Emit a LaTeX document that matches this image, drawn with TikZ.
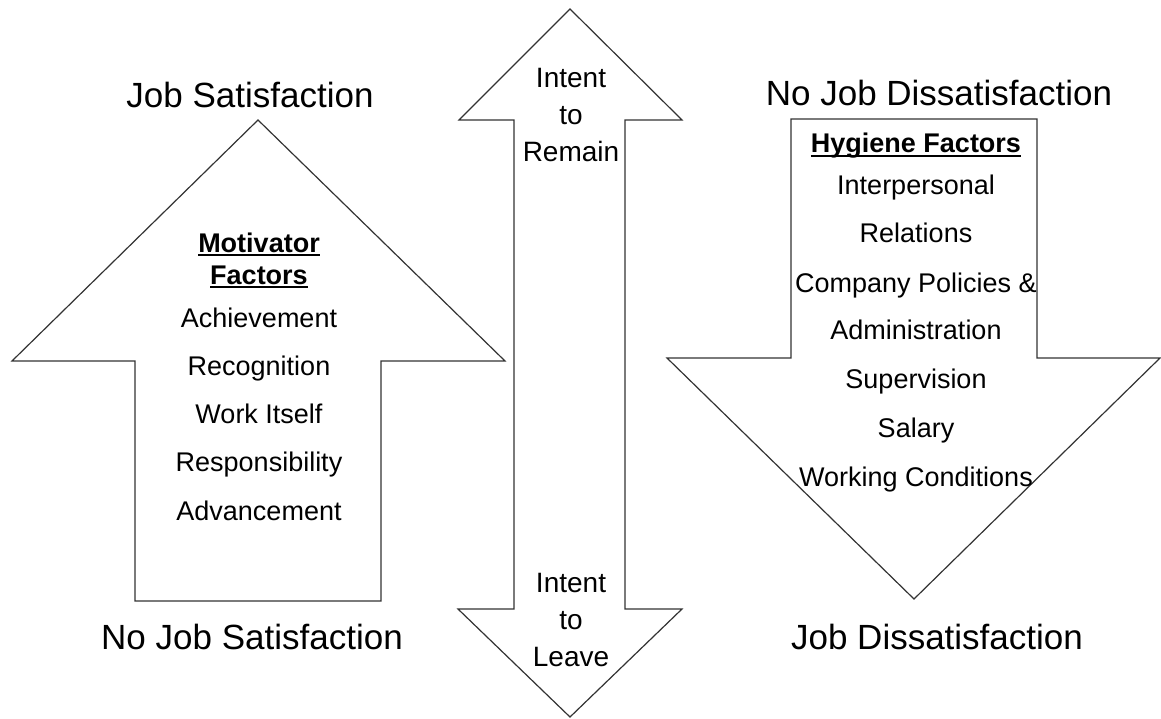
\documentclass[tikz,border=0pt]{standalone}
\usepackage{fontspec}
\setmainfont{Liberation Sans}
% underline drawn at a fixed depth under the text
\newcommand\factorhead[1]{\setbox0\hbox{\bfseries #1}\rlap{\rule[-0.14em]{\wd0}{0.075em}}\box0}
\begin{document}
\begin{tikzpicture}[x=1pt,y=-1pt,
  arrowshape/.style={draw=black!80, line width=1.2pt, fill=white, line join=miter},
  biglabel/.style={anchor=base, inner sep=0pt, font=\fontsize{35}{42}\selectfont},
  item/.style={anchor=base, inner sep=0pt, font=\fontsize{27}{32}\selectfont},
  midtext/.style={anchor=base, inner sep=0pt, font=\fontsize{28}{33}\selectfont}]
\useasboundingbox (0,0) rectangle (1161,719);

% up arrow: motivators
\draw[arrowshape] (258,120) -- (505,361) -- (381,361) -- (381,601) -- (135,601)
  -- (135,361) -- (12,361) -- cycle;
% double arrow: intent
\draw[arrowshape] (570,9) -- (682,120) -- (625,120) -- (625,609) -- (682,609)
  -- (570,717) -- (458,609) -- (514,609) -- (514,120) -- (459,120) -- cycle;
% down arrow: hygiene
\draw[arrowshape] (791,119) -- (1037,119) -- (1037,358) -- (1160,358) -- (914,599)
  -- (667,358) -- (791,358) -- cycle;

% outer labels
\node[biglabel] (js)  at (250,108) {Job Satisfaction};
\node[biglabel] (njs) at (252,649) {No Job Satisfaction};
\node[biglabel] (njd) at (939,106) {No Job Dissatisfaction};
\node[biglabel] (jd)  at (937,649) {Job Dissatisfaction};

% motivator factors
\node[item] (mh1) at (259,252) {\factorhead{Motivator}};
\node[item] (mh2) at (259,284) {\factorhead{Factors}};
\node[item] (m1) at (259,327) {Achievement};
\node[item] (m2) at (259,375) {Recognition};
\node[item] (m3) at (259,423) {Work Itself};
\node[item] (m4) at (259,471) {Responsibility};
\node[item] (m5) at (259,520) {Advancement};

% intent labels
\node[midtext] (r1) at (571,88)  {Intent};
\node[midtext] (r2) at (571,125) {to};
\node[midtext] (r3) at (571,162) {Remain};
\node[midtext] (l1) at (571,592) {Intent};
\node[midtext] (l2) at (571,629) {to};
\node[midtext] (l3) at (571,666) {Leave};

% hygiene factors
\node[item] (hh) at (916,153) {\factorhead{Hygiene Factors}};
\node[item] (h1) at (916,195) {Interpersonal};
\node[item] (h2) at (916,243) {Relations};
\node[item] (h3) at (916,292) {Company Policies \&};
\node[item] (h4) at (916,339) {Administration};
\node[item] (h5) at (916,388) {Supervision};
\node[item] (h6) at (916,437) {Salary};
\node[item] (h7) at (916,486) {Working Conditions};
\end{tikzpicture}
\end{document}
